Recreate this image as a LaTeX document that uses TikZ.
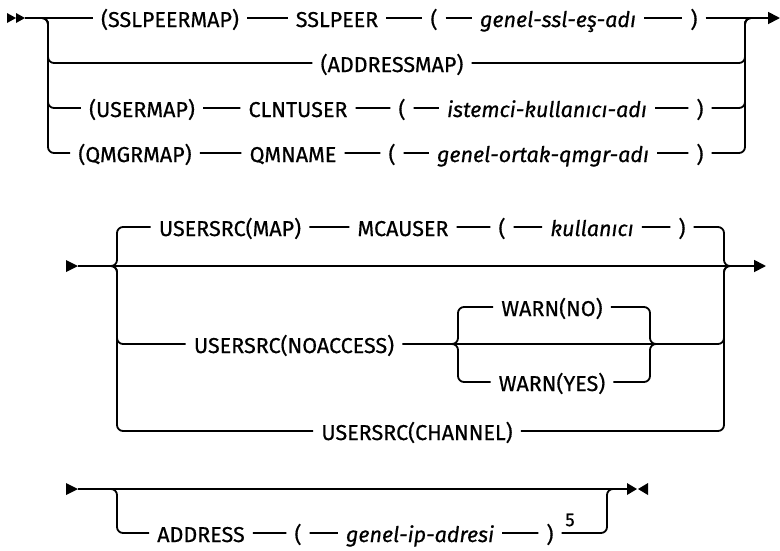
\documentclass[tikz,border=0pt]{standalone}
\usepackage{fontspec}
\setmainfont{Fira Sans}[FakeBold=0.6]
\usetikzlibrary{arrows.meta}

\newcommand\railfont{\fontsize{21.5}{24}\selectfont}

\tikzset{
  rail/.style={line width=1.8pt, rounded corners=6pt},
  kw/.style={font=\railfont, inner xsep=8pt, inner ysep=0pt,
             text height=18pt, text depth=0pt},
  var/.style={kw, font=\railfont\itshape},
  note/.style={font=\fontsize{18.5}{20}\selectfont, inner sep=0pt},
  tip/.style={-{Triangle[length=12pt,width=12pt]}}
}

\begin{document}
\begin{tikzpicture}[x=1pt, y=-1pt]
  \useasboundingbox (0,0) rectangle (780,550);

  % --- part 1: mapping type ---
  \fill (7,13) -- (16,18) -- (7,23) -- cycle;   % start mark
  \fill (16,13) -- (25,18) -- (16,23) -- cycle;
  \coordinate (in1)  at (25,18);
  \coordinate (out1) at (780,18);
  \coordinate (jl1)  at (36,18);
  \coordinate (vl1)  at (48,18);
  \coordinate (vr1)  at (745,18);
  \coordinate (jr1)  at (757,18);

  \node[kw]  (sslmap)   at (170,18)  {(SSLPEERMAP)};
  \node[kw]  (sslpeer)  at (337,18)  {SSLPEER};
  \node[kw]  (lp1)      at (434,18)  {(};
  \node[var] (sslname)  at (558,18)  {genel-ssl-eş-adı};
  \node[kw]  (rp1)      at (694,18)  {)};

  \node[kw]  (addrmap)  at (392,63)  {(ADDRESSMAP)};

  \node[kw]  (usermap)  at (142,108) {(USERMAP)};
  \node[kw]  (clntuser) at (298,108) {CLNTUSER};
  \node[kw]  (lp3)      at (402,108) {(};
  \node[var] (clntname) at (547,108) {istemci-kullanıcı-adı};
  \node[kw]  (rp3)      at (700,108) {)};

  \node[kw]  (qmgrmap)  at (135,153) {(QMGRMAP)};
  \node[kw]  (qmname)   at (293,153) {QMNAME};
  \node[kw]  (lp4)      at (392,153) {(};
  \node[var] (qmgrname) at (543,153) {genel-ortak-qmgr-adı};
  \node[kw]  (rp4)      at (700,153) {)};

  \draw[rail] (in1) -- (sslmap) -- (sslpeer) -- (lp1) -- (sslname) -- (rp1);
  \draw[rail, tip] (rp1) -- (out1);
  \draw[rail] (jl1) -| (vl1 |- addrmap) -- (addrmap) -| (vr1) -- (jr1);
  \draw[rail] (jl1) -| (vl1 |- usermap) -- (usermap) -- (clntuser) -- (lp3)
    -- (clntname) -- (rp3) -| (vr1) -- (jr1);
  \draw[rail] (jl1) -| (vl1 |- qmgrmap) -- (qmgrmap) -- (qmname) -- (lp4)
    -- (qmgrname) -- (rp4) -| (vr1) -- (jr1);

  % --- part 2: user source ---
  \fill (66,260) -- (78,266) -- (66,272) -- cycle;
  \coordinate (in2)  at (78,266);
  \coordinate (out2) at (766,266);
  \coordinate (jl2)  at (109,266);
  \coordinate (vl2)  at (117,266);
  \coordinate (vr2)  at (724,266);
  \coordinate (jr2)  at (732,266);

  \node[kw]  (mapsrc)   at (230,227) {USERSRC(MAP)};
  \node[kw]  (mcauser)  at (403,227) {MCAUSER};
  \node[kw]  (lp5)      at (502,227) {(};
  \node[var] (mcaname)  at (592,227) {kullanıcı};
  \node[kw]  (rp5)      at (682,227) {)};

  \node[kw]  (noaccess) at (294,344) {USERSRC(NOACCESS)};
  \coordinate (jl3) at (450,344);
  \coordinate (vl3) at (458,344);
  \coordinate (vr3) at (650,344);
  \coordinate (jr3) at (658,344);
  \node[kw]  (warnno)   at (552,307) {WARN(NO)};
  \node[kw]  (warnyes)  at (552,382) {WARN(YES)};

  \node[kw]  (chansrc)  at (417,431) {USERSRC(CHANNEL)};

  \draw[rail, tip] (in2) -- (out2);
  \draw[rail] (jl2) -| (vl2 |- mapsrc) -- (mapsrc) -- (mcauser) -- (lp5)
    -- (mcaname) -- (rp5) -| (vr2) -- (jr2);
  \draw[rail] (jl2) -| (vl2 |- noaccess) -- (noaccess) -| (vr2) -- (jr2);
  \draw[rail] (jl3) -| (vl3 |- warnno) -- (warnno) -| (vr3) -- (jr3);
  \draw[rail] (jl3) -| (vl3 |- warnyes) -- (warnyes) -| (vr3) -- (jr3);
  \draw[rail] (jl2) -| (vl2 |- chansrc) -- (chansrc) -| (vr2) -- (jr2);

  % --- part 3: address ---
  \fill (66,483) -- (78,489) -- (66,495) -- cycle;
  \coordinate (in3)  at (78,489);
  \coordinate (out3) at (627,489);
  \coordinate (jl4)  at (105,489);
  \coordinate (vl4)  at (117,489);
  \coordinate (vr4)  at (607,489);
  \coordinate (jr4)  at (619,489);
  \fill (627,483) -- (637,489) -- (627,495) -- cycle;   % end mark
  \fill (648,483) -- (638,489) -- (648,495) -- cycle;

  \node[kw]  (addr)     at (201,533) {ADDRESS};
  \node[kw]  (lp6)      at (298,533) {(};
  \node[var] (ipname)   at (420,533) {genel-ip-adresi};
  \node[kw]  (rp6)      at (550,533) {)};
  \node[note] (fn5)     at (570,520) {5};

  \draw[rail] (in3) -- (out3);
  \draw[rail] (jl4) -| (vl4 |- addr) -- (addr) -- (lp6) -- (ipname)
    -- (rp6) -| (vr4) -- (jr4);
\end{tikzpicture}
\end{document}
